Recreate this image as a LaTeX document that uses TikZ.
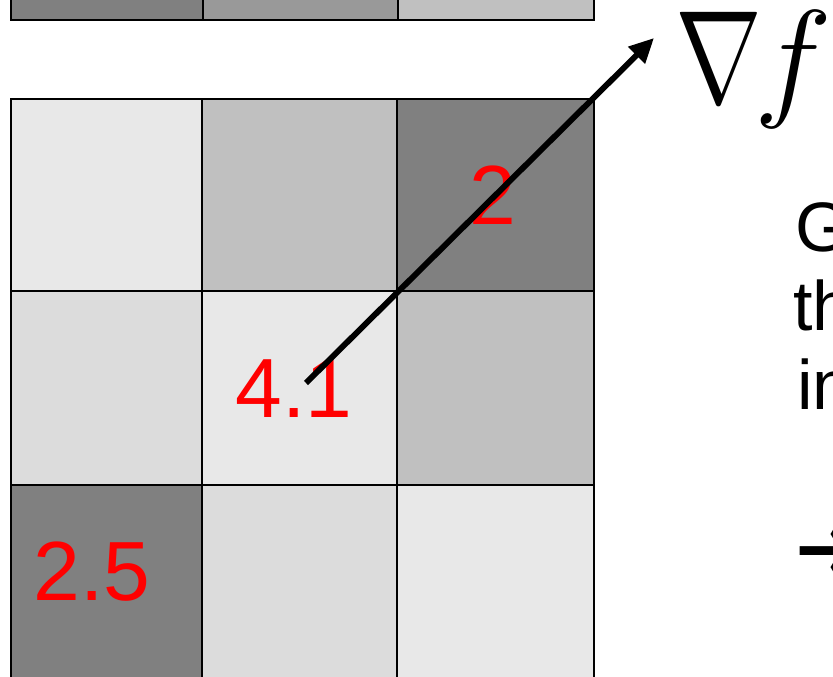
\RequirePackage{fix-cm}
\documentclass[tikz,border=0pt]{standalone}
\usepackage{fontspec}
\setmainfont{Liberation Sans}
\newfontfamily\symfont{DejaVu Sans}
\usepackage{graphicx}
\usetikzlibrary{arrows.meta}
\definecolor{gA}{HTML}{808080}
\definecolor{gB}{HTML}{999999}
\definecolor{gC}{HTML}{C0C0C0}
\definecolor{gD}{HTML}{DCDCDC}
\definecolor{gE}{HTML}{E8E8E8}
\tikzset{
  cell/.style={draw=black, line width=1.5pt},
  num/.style={text=red, font=\fontsize{63pt}{63pt}\selectfont, anchor=base, inner sep=0pt},
  side/.style={text=black, font=\fontsize{52.5pt}{52.5pt}\selectfont, anchor=base west, inner sep=0pt},
  grad/.style={-{Triangle[length=18.5pt,width=17pt]}, line width=4.4pt, black},
}
\begin{document}
\begin{tikzpicture}[x=0.75pt,y=-0.75pt]
\useasboundingbox (0,0) rectangle (833,677);
\clip (0,0) rectangle (833,677);
% top strip
\path[cell, fill=gA] (11,-30) rectangle (203,20);
\path[cell, fill=gB] (203,-30) rectangle (398,20);
\path[cell, fill=gC] (398,-30) rectangle (594,20);
% main grid
\path[cell, fill=gE] (11,99) rectangle (202,291);
\path[cell, fill=gC] (202,99) rectangle (397,291);
\path[cell, fill=gA] (397,99) rectangle (594,291);
\path[cell, fill=gD] (11,291) rectangle (202,485);
\path[cell, fill=gE] (202,291) rectangle (397,485);
\path[cell, fill=gC] (397,291) rectangle (594,485);
\path[cell, fill=gA] (11,485) rectangle (202,690);
\path[cell, fill=gD] (202,485) rectangle (397,690);
\path[cell, fill=gE] (397,485) rectangle (594,690);
% numbers
\node[num] (n2) at (493,225) {2};
\node[num] (n41) at (294,418) {4.1};
\node[num] (n25) at (92,600) {2.5};
% gradient label
\node[anchor=base west, inner sep=0pt] (nab) at (675,103)
  {\fontsize{99pt}{99pt}\selectfont$\scalebox{0.79}[1]{$\nabla$}\hspace{-6pt}f$};
% side text
\node[side] (l1) at (795,252) {Gradient};
\node[side] (l2) at (793,331) {the};
\node[side] (l3) at (797,410) {in};
\node[side, font=\fontsize{80pt}{80pt}\selectfont] (l4) at (796,585) {\scalebox{0.6}[1]{\symfont →}};
% arrow
\coordinate (start) at (306,383);
\coordinate (tip) at (654,38);
\draw[grad] (start) -- (tip);
\end{tikzpicture}
\end{document}
